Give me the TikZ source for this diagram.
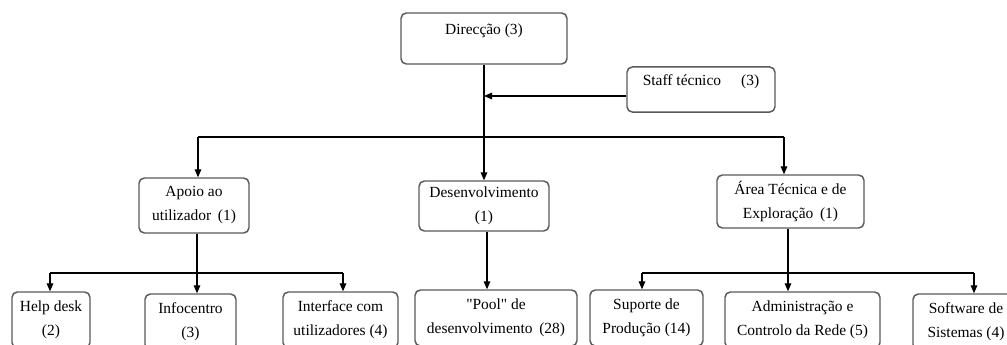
\documentclass[tikz,border=0pt]{standalone}
\usepackage{fontspec}
\setmainfont{Liberation Serif}
\usetikzlibrary{arrows.meta}
\definecolor{boxgray}{HTML}{5A5A5A}
\begin{document}
\begin{tikzpicture}[x=0.75pt,y=-0.75pt,
  boxbase/.style={draw=boxgray, line width=1.1pt, rounded corners=4pt, inner sep=0pt, fill=white,
    font=\fontsize{11.6}{18}\selectfont},
  box/.style={boxbase, align=center},
  boxone/.style={boxbase},
  arr/.style={-{Triangle[length=6pt,width=5pt]}, line width=0.8pt},
  ln/.style={line width=0.8pt}]
\useasboundingbox (0,0) rectangle (1007,344);

% top level
\node[boxone, minimum width=124.5pt, text height=15.75pt, text depth=22.5pt] (dir) at (484,38.5) {Direcção (3)};
\node[boxone, minimum width=111pt, text height=13.9pt, text depth=19.9pt] (staff) at (701,89.5) {Staff técnico\hspace{15pt}(3)};

% second level
\node[box, minimum width=82.5pt, minimum height=41.25pt] (apoio) at (194,205.5) {Apoio ao\\utilizador\hspace{5pt}(1)};
\node[box, minimum width=97.5pt, minimum height=37.5pt] (desen) at (484,206) {Desenvolvimento\\(1)};
\node[box, minimum width=110.25pt, minimum height=39.75pt] (area) at (790.5,201.5) {Área Técnica e de\\Exploração\hspace{5pt}(1)};

% third level
\node[box, minimum width=58.5pt, minimum height=42pt] (help) at (51,320) {Help desk\\(2)};
\node[box, minimum width=68.25pt, minimum height=42pt] (info) at (190.5,322) {Infocentro\\(3)};
\node[box, minimum width=86.25pt, minimum height=42pt] (iface) at (340.5,320) {Interface com\\utilizadores (4)};
\node[box, minimum width=121.5pt, minimum height=42pt] (pool) at (496,318) {\textquotedbl Pool\textquotedbl{} de\\desenvolvimento\hspace{5pt}(28)};
\node[box, minimum width=84.75pt, minimum height=42pt] (sup) at (646.5,318) {Suporte de\\Produção (14)};
\node[box, minimum width=116.25pt, minimum height=42pt] (adm) at (802.5,320) {Administração e\\Controlo da Rede (5)};
\node[box, minimum width=79.5pt, minimum height=42pt] (soft) at (966,322) {Software de\\Sistemas (4)};

% connectors top
\coordinate (sj) at (484,96);
\draw[arr] (dir.south) -- (desen.north);
\draw[arr] (staff.west |- sj) -- (sj);

% main bus
\coordinate (b1) at (198,137);
\coordinate (b2) at (784,137);
\draw[ln] (b1) -- (b2);
\draw[arr] (b1) -- (b1 |- apoio.north);
\draw[arr] (b2) -- (b2 |- area.north);

% apoio bus
\coordinate (ab) at (197,273);
\coordinate (al) at (50,273);
\coordinate (ar) at (343,273);
\draw[ln] (al) -- (ar);
\draw[arr] (ab |- apoio.south) -- (ab |- info.north);
\draw[arr] (al) -- (al |- help.north);
\draw[arr] (ar) -- (ar |- iface.north);

% desenvolvimento
\coordinate (dp) at (487,250);
\draw[arr] (dp |- desen.south) -- (dp |- pool.north);

% area bus
\coordinate (xb) at (788,273);
\coordinate (xl) at (642,273);
\coordinate (xr) at (974,273);
\draw[ln] (xl) -- (xr);
\draw[arr] (xb |- area.south) -- (xb |- adm.north);
\draw[arr] (xl) -- (xl |- sup.north);
\draw[arr] (xr) -- (xr |- soft.north);
\end{tikzpicture}
\end{document}
